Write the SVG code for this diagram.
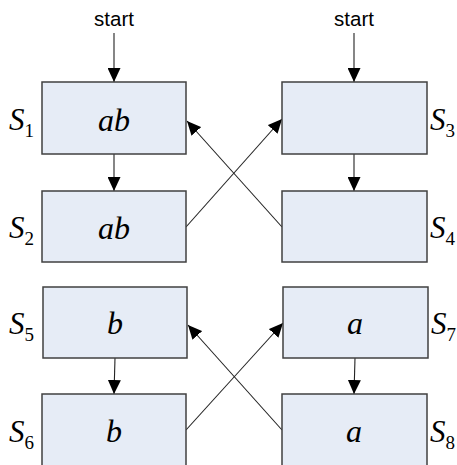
<svg xmlns="http://www.w3.org/2000/svg" width="457" height="465" viewBox="0 0 457 465">
<style>
.box{fill:#e6ecf6;stroke:#404040;stroke-width:1.5}
.in{font-family:"Liberation Serif",serif;font-style:italic;font-size:32px;text-anchor:middle;fill:#000}
.lab{font-family:"Liberation Serif",serif;font-style:italic;font-size:31px;fill:#000}
.sub{font-style:normal;font-size:19px}
.st{font-family:"Liberation Sans",Arial,sans-serif;font-size:20.5px;text-anchor:middle;fill:#000}
.ln{stroke:#222;stroke-width:1.1;fill:none;marker-end:url(#ah)}
</style>
<defs>
<marker id="ah" viewBox="0 0 14 13" refX="14" refY="6.5" markerWidth="14" markerHeight="13" orient="auto" markerUnits="userSpaceOnUse">
<path d="M0,0 L14,6.5 L0,13 Z" fill="#000"/>
</marker>
</defs>
<g id="connectors">
<text class="st" x="114" y="26">start</text>
<text class="st" x="354" y="26">start</text>
<line class="ln" x1="114" y1="33" x2="114" y2="82"/>
<line class="ln" x1="354" y1="33" x2="354" y2="82"/>
<line class="ln" x1="114" y1="154" x2="114" y2="191"/>
<line class="ln" x1="354" y1="154" x2="354" y2="191"/>
<line class="ln" x1="115" y1="358" x2="114" y2="394"/>
<line class="ln" x1="355" y1="358" x2="354" y2="394"/>
<line class="ln" x1="186" y1="227" x2="282" y2="119"/>
<line class="ln" x1="282" y1="227" x2="187" y2="121"/>
<line class="ln" x1="186" y1="430" x2="283" y2="323"/>
<line class="ln" x1="282" y1="430" x2="188" y2="325"/>
</g>
<g id="S1">
<rect class="box" x="42" y="82" width="144" height="72"/>
<text class="in" x="114" y="131">ab</text>
<text class="lab" x="9" y="130">S<tspan class="sub" dx="0" dy="7">1</tspan></text>
</g>
<g id="S2">
<rect class="box" x="42" y="191" width="144" height="71"/>
<text class="in" x="114" y="239">ab</text>
<text class="lab" x="9" y="238">S<tspan class="sub" dx="0" dy="7">2</tspan></text>
</g>
<g id="S3">
<rect class="box" x="282" y="82" width="145" height="72"/>
<text class="lab" x="430" y="130">S<tspan class="sub" dx="0" dy="7">3</tspan></text>
</g>
<g id="S4">
<rect class="box" x="282" y="191" width="145" height="71"/>
<text class="lab" x="430" y="238">S<tspan class="sub" dx="0" dy="7">4</tspan></text>
</g>
<g id="S5">
<rect class="box" x="43" y="287" width="144" height="71"/>
<text class="in" x="115" y="334">b</text>
<text class="lab" x="9" y="334">S<tspan class="sub" dx="0" dy="7">5</tspan></text>
</g>
<g id="S6">
<rect class="box" x="42" y="394" width="144" height="73"/>
<text class="in" x="114" y="442">b</text>
<text class="lab" x="9" y="442">S<tspan class="sub" dx="0" dy="7">6</tspan></text>
</g>
<g id="S7">
<rect class="box" x="283" y="287" width="145" height="71"/>
<text class="in" x="355" y="334">a</text>
<text class="lab" x="431" y="334">S<tspan class="sub" dx="0" dy="7">7</tspan></text>
</g>
<g id="S8">
<rect class="box" x="282" y="394" width="145" height="73"/>
<text class="in" x="354" y="442">a</text>
<text class="lab" x="430" y="442">S<tspan class="sub" dx="0" dy="7">8</tspan></text>
</g>
</svg>
